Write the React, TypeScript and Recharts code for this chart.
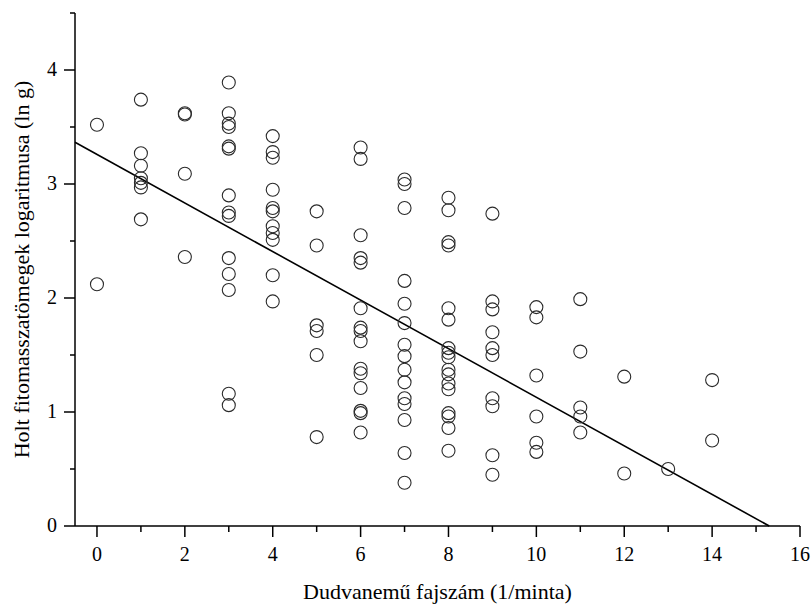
import { ScatterChart, Scatter, XAxis, YAxis, ReferenceLine, Label } from "recharts";

// species count (x) -> log dead phytomass values (y)
const weedSpecies = [0, 1, 2, 3, 4, 5, 6, 7, 8, 9, 10, 11, 12, 13, 14];
const logMass0 = [3.52, 2.12];
const logMass1 = [3.74, 3.27, 3.16, 3.05, 3.01, 2.97, 2.69];
const logMass2 = [3.62, 3.61, 3.09, 2.36];
const logMass3 = [3.89, 3.62, 3.53, 3.5, 3.33, 3.31, 2.9, 2.75, 2.72, 2.35, 2.21, 2.07, 1.16, 1.06];
const logMass4 = [3.42, 3.28, 3.23, 2.95, 2.79, 2.76, 2.63, 2.57, 2.51, 2.2, 1.97];
const logMass5 = [2.76, 2.46, 1.76, 1.71, 1.5, 0.78];
const logMass6 = [3.32, 3.22, 2.55, 2.35, 2.31, 1.91, 1.74, 1.71, 1.62, 1.38, 1.34, 1.21, 1.01, 0.99, 0.82];
const logMass7 = [3.04, 3.0, 2.79, 2.15, 1.95, 1.78, 1.59, 1.49, 1.37, 1.26, 1.12, 1.07, 0.93, 0.64, 0.38];
const logMass8 = [2.88, 2.77, 2.49, 2.46, 1.91, 1.81, 1.56, 1.52, 1.48, 1.37, 1.33, 1.25, 1.2, 0.99, 0.96, 0.86, 0.66];
const logMass9 = [2.74, 1.97, 1.9, 1.7, 1.56, 1.5, 1.12, 1.05, 0.62, 0.45];
const logMass10 = [1.92, 1.83, 1.32, 0.96, 0.73, 0.65];
const logMass11 = [1.99, 1.53, 1.04, 0.96, 0.82];
const logMass12 = [1.31, 0.46];
const logMass13 = [0.5];
const logMass14 = [1.28, 0.75];

const columns = [
  logMass0, logMass1, logMass2, logMass3, logMass4, logMass5, logMass6, logMass7,
  logMass8, logMass9, logMass10, logMass11, logMass12, logMass13, logMass14,
];

// fitted regression line end points
const fitStart = { x: -0.5, y: 3.366 };
const fitEnd = { x: 15.3, y: 0 };

const xTicks = [0, 1, 2, 3, 4, 5, 6, 7, 8, 9, 10, 11, 12, 13, 14, 15, 16];
const yTicks = [0, 0.5, 1, 1.5, 2, 2.5, 3, 3.5, 4, 4.5];

const xTitle = "Dudvanemű fajszám (1/minta)";
const yTitle = "Holt fitomasszatömegek logaritmusa (ln g)";

const font = '"Liberation Serif", "Times New Roman", serif';

const points = weedSpecies.flatMap((s, i) => columns[i].map((v) => ({ x: s, y: v })));

const OpenCircle = (props: any) => (
  <circle cx={props.cx} cy={props.cy} r={6.5} fill="none" stroke="#2a2a2a" strokeWidth={1.1} />
);

const XTick = ({ x, y, payload }: any) => {
  const major = payload.value % 2 === 0;
  return (
    <g>
      <line x1={x} y1={y} x2={x} y2={y + (major ? 11 : 6)} stroke="#000" strokeWidth={1.5} />
      {major && (
        <text x={x} y={y + 35} textAnchor="middle" fontSize={20} fontFamily={font} fill="#000">
          {payload.value}
        </text>
      )}
    </g>
  );
};

const YTick = ({ x, y, payload }: any) => {
  const major = Number.isInteger(payload.value);
  return (
    <g>
      <line x1={x} y1={y} x2={x - (major ? 11 : 5)} y2={y} stroke="#000" strokeWidth={1.5} />
      {major && (
        <text x={x - 18} y={y + 6} textAnchor="end" fontSize={20} fontFamily={font} fill="#000">
          {payload.value}
        </text>
      )}
    </g>
  );
};

const YTitle = ({ viewBox }: any) => {
  const cx = viewBox.x + 21;
  const cy = viewBox.y + viewBox.height / 2;
  return (
    <text x={cx} y={cy} transform={`rotate(-90 ${cx} ${cy})`} textAnchor="middle" dominantBaseline="central"
      fontSize={22} fontFamily={font} fill="#000">
      {yTitle}
    </text>
  );
};

const XTitle = ({ viewBox }: any) => {
  const cx = viewBox.x + viewBox.width / 2;
  return (
    <text x={cx} y={viewBox.y + 73} textAnchor="middle" fontSize={22} fontFamily={font} fill="#000">
      {xTitle}
    </text>
  );
};

export default function App() {
  return (
    <div style={{ position: "absolute", left: 0, top: 0, background: "#fff" }}>
      <ScatterChart width={811} height={605} margin={{ top: 13, right: 11, left: 0, bottom: 0 }}>
        <XAxis
          type="number"
          dataKey="x"
          domain={[-0.5, 16]}
          ticks={xTicks}
          interval={0}
          allowDataOverflow
          height={79}
          tickSize={0}
          tickMargin={0}
          tickLine={false}
          tick={<XTick />}
          axisLine={{ stroke: "#000", strokeWidth: 1.5 }}
        >
          <Label content={<XTitle />} />
        </XAxis>
        <YAxis
          type="number"
          dataKey="y"
          domain={[0, 4.5]}
          ticks={yTicks}
          interval={0}
          allowDataOverflow
          width={75}
          tickSize={0}
          tickMargin={0}
          tickLine={false}
          tick={<YTick />}
          axisLine={{ stroke: "#000", strokeWidth: 1.5 }}
        >
          <Label content={<YTitle />} />
        </YAxis>
        <Scatter data={points} shape={<OpenCircle />} isAnimationActive={false} />
        <ReferenceLine segment={[fitStart, fitEnd]} stroke="#000" strokeWidth={1.6} />
      </ScatterChart>
    </div>
  );
}
